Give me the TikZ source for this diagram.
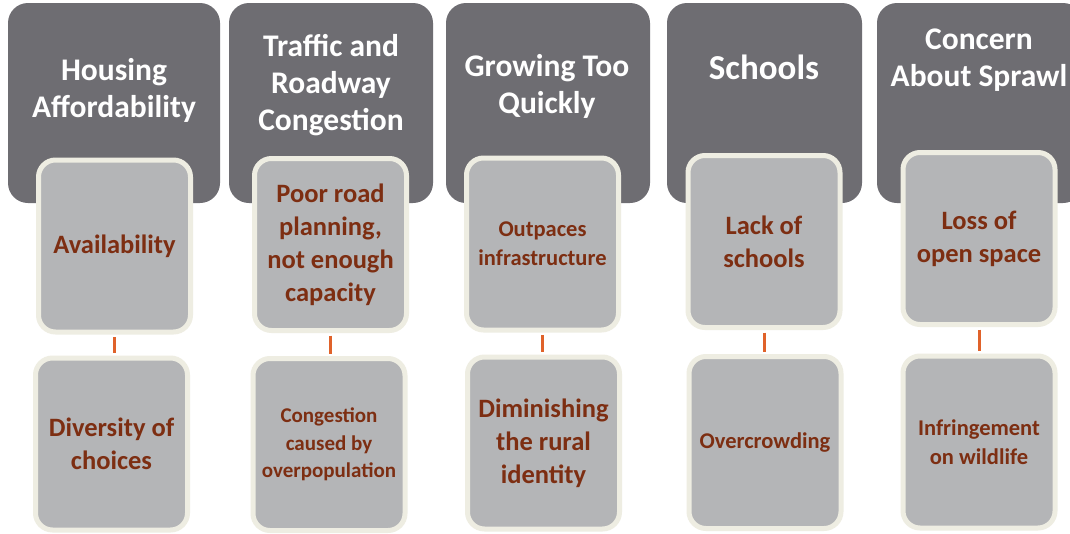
\documentclass[tikz,border=0pt]{standalone}
\usepackage{fontspec}
\setmainfont{Carlito}
\definecolor{hdr}{HTML}{6E6D72}
\definecolor{cbox}{HTML}{B4B5B7}
\definecolor{cedge}{HTML}{EEEDE2}
\definecolor{ctext}{HTML}{7D2E12}
\definecolor{conn}{HTML}{E0622A}
\tikzset{
  header/.style={draw=none, fill=hdr, rounded corners=20pt, minimum width=#1, minimum height=200pt, inner sep=0pt},
  htext/.style={text=white, font=\bfseries\fontsize{31.5}{37}\selectfont, align=center, inner sep=0pt},
  child/.style={fill=cbox, draw=cedge, line width=5pt, rounded corners=17pt, minimum width=152pt, minimum height=172pt, align=center, text=ctext, inner sep=0pt},
  big/.style={font=\bfseries\fontsize{26.5}{33}\selectfont},
  small/.style={font=\bfseries\fontsize{22.5}{29}\selectfont},
  tiny/.style={font=\bfseries\fontsize{21}{27.5}\selectfont},
  link/.style={draw=conn, line width=3pt, shorten <=2.5pt, shorten >=2.5pt}
}
\begin{document}
\begin{tikzpicture}[x=1pt,y=-1pt]
\useasboundingbox (0,0) rectangle (1070,533);
\clip (0,0) rectangle (1070,533);
\fill[white] (0,0) rectangle (1070,533);
% headers
\node[header=212pt] (h1) at (114,103) {};
\node[header=204pt] (h2) at (331,103) {};
\node[header=204pt] (h3) at (548,103) {};
\node[header=195pt] (h4) at (764.5,103) {};
\node[header=206pt] (h5) at (980,103) {};
% header labels
\node[htext] (t1) at (114,90) {Housing\\Affordability};
\node[htext] (t2) at (331,85) {Traffic and\\Roadway\\Congestion};
\node[htext] (t3) at (547,86) {Growing Too\\Quickly};
\node[htext, font=\bfseries\fontsize{35}{40}\selectfont] (t4) at (764,67) {Schools};
\node[htext] (t5) at (979,60) {Concern\\About Sprawl};
% children
\node[child, big] (c1a) at (114.5,246) {Availability};
\node[child, big] (c1b) at (111.5,444) {Diversity of\\choices};
\node[child, big] (c2a) at (330.5,244.5) {Poor road\\planning,\\not enough\\capacity};
\node[child, tiny] (c2b) at (329,444.5) {Congestion\\caused by\\overpopulation};
\node[child, small] (c3a) at (542.5,244) {Outpaces\\infrastructure};
\node[child, big] (c3b) at (543.5,443) {Diminishing\\the rural\\identity};
\node[child, big] (c4a) at (764,241.5) {Lack of\\schools};
\node[child, small] (c4b) at (765,442.5) {Overcrowding};
\node[child, big] (c5a) at (979,238.5) {Loss of\\open space};
\node[child, small] (c5b) at (979,442) {Infringement\\on wildlife};
% connectors
\draw[link] (c1a.south) -- (c1a.south |- c1b.north);
\draw[link] (c2a.south) -- (c2a.south |- c2b.north);
\draw[link] (c3a.south) -- (c3a.south |- c3b.north);
\draw[link] (c4a.south) -- (c4a.south |- c4b.north);
\draw[link] (c5a.south) -- (c5a.south |- c5b.north);
\end{tikzpicture}
\end{document}
